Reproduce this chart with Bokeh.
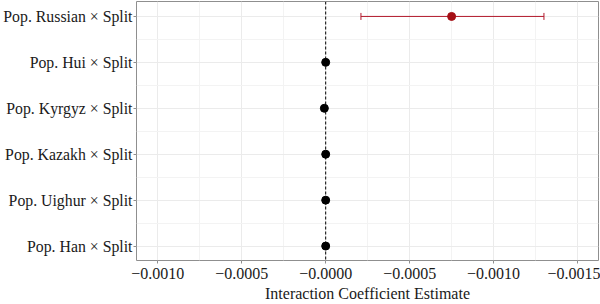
from bokeh.plotting import figure
from bokeh.models import Range1d, FixedTicker, Whisker, Span, ColumnDataSource
from bokeh.embed import file_html
from bokeh.resources import INLINE

categories = ["Pop. Han × Split", "Pop. Uighur × Split", "Pop. Kazakh × Split",
              "Pop. Kyrgyz × Split", "Pop. Hui × Split", "Pop. Russian × Split"]
estimates = [0.0, 0.0, 0.0, 0.000008, 0.0, -0.00075]
lower = [-0.000004, -0.000004, -0.000004, 0.000004, -0.000004, -0.00130]
upper = [0.000004, 0.000004, 0.000004, 0.000012, 0.000004, -0.00021]
point_colors = ["#000000"] * 5 + ["#A50F15"]
bar_colors = ["#000000"] * 5 + ["#B2182B"]
x_tick_values = [0.0010, 0.0005, 0.0, -0.0005, -0.0010, -0.0015]
x_tick_labels = ["−0.0010", "−0.0005", "−0.0000", "−0.0005", "−0.0010", "−0.0015"]
x_title = "Interaction Coefficient Estimate"

ypos = list(range(1, len(categories) + 1))
src = ColumnDataSource(dict(y=ypos, est=estimates, lo=lower, hi=upper,
                            pc=point_colors, bc=bar_colors))

FONT = "Liberation Serif"
p = figure(width=600, height=304, output_backend="svg", toolbar_location=None,
           x_range=Range1d(0.001127, -0.001625), y_range=Range1d(0.686, 6.325),
           min_border_left=134, min_border_right=2, min_border_top=1, min_border_bottom=44)
p.background_fill_color = "white"
p.border_fill_color = "white"
p.outline_line_color = "#8f8f8f"
p.outline_line_width = 1

xt = FixedTicker(ticks=x_tick_values,
                 minor_ticks=[0.00075, 0.00025, -0.00025, -0.00075, -0.00125])
yt = FixedTicker(ticks=ypos, minor_ticks=[1.5, 2.5, 3.5, 4.5, 5.5])
p.xaxis.ticker = xt
p.yaxis.ticker = yt
p.xaxis.major_label_overrides = {v: l for v, l in zip(x_tick_values, x_tick_labels)}
p.yaxis.major_label_overrides = {y: c for y, c in zip(ypos, categories)}

for ax in (p.xaxis[0], p.yaxis[0]):
    ax.axis_line_color = None
    ax.major_tick_line_color = "#8f8f8f"
    ax.major_tick_out = 3
    ax.major_tick_in = 0
    ax.minor_tick_line_color = None
    ax.major_label_text_font = FONT
    ax.major_label_text_font_size = "16px"
    ax.major_label_text_color = "#1a1a1a"
p.yaxis.major_label_text_font_size = "15.8px"
p.xaxis.major_label_standoff = 3
p.yaxis.major_label_standoff = 0
p.xaxis.axis_label = x_title
p.xaxis.axis_label_text_font = FONT
p.xaxis.axis_label_text_font_size = "16px"
p.xaxis.axis_label_text_font_style = "normal"
p.xaxis.axis_label_text_color = "#1a1a1a"
p.xaxis.axis_label_standoff = 3

for g in (p.xgrid[0], p.ygrid[0]):
    g.grid_line_color = "#ebebeb"
    g.grid_line_width = 1
    g.minor_grid_line_color = "#f3f3f3"
    g.minor_grid_line_width = 1

p.add_layout(Span(location=0, dimension="height", line_color="black",
                  line_dash="3 2", line_width=1))

w = Whisker(source=src, base="y", lower="lo", upper="hi", dimension="width",
            line_color="bc", line_width=1)
w.upper_head.size = 7
w.lower_head.size = 7
w.upper_head.line_color = "bc"
w.lower_head.line_color = "bc"
p.add_layout(w)

p.scatter("est", "y", source=src, size=8, fill_color="pc", line_color="pc")

open("out.html", "w").write(file_html(p, INLINE))
